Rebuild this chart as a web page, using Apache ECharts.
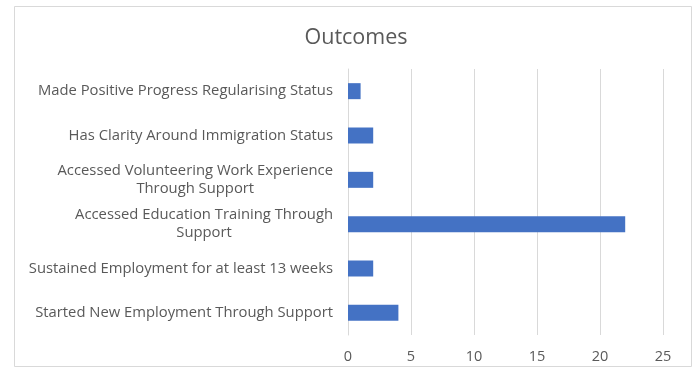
<!DOCTYPE html>
<html>
<head>
<meta charset="utf-8">
<style>
  html, body { margin: 0; padding: 0; background: #ffffff; }
  #chart { width: 697px; height: 371px; }
</style>
<script src="https://cdn.jsdelivr.net/npm/echarts@6/dist/echarts.min.js"></script>
</head>
<body>
<div id="chart"></div>
<script>
// Outcome categories, listed bottom to top as the category axis draws them
const categories = [
  'Started New Employment Through Support',
  'Sustained Employment for at least 13 weeks',
  'Accessed Education Training Through\nSupport',
  'Accessed Volunteering Work Experience\nThrough Support',
  'Has Clarity Around Immigration Status',
  'Made Positive Progress Regularising Status'
];
const counts = [4, 2, 22, 2, 2, 1];
const xTicks = [0, 5, 10, 15, 20, 25];

const FONT = '"Open Sans"';
const chart = echarts.init(document.getElementById('chart'));

chart.setOption({
  animation: false,
  backgroundColor: '#ffffff',
  title: {
    text: 'Outcomes',
    left: 351,
    top: 22,
    textAlign: 'center',
    textStyle: { fontFamily: FONT, fontSize: 21.5, fontWeight: 'normal', color: '#595959' }
  },
  graphic: [{
    type: 'rect',
    shape: { x: 14.5, y: 6.5, width: 677, height: 360 },
    style: { fill: 'none', stroke: '#d9d9d9', lineWidth: 1 },
    silent: true
  }],
  grid: { left: 348, right: 34, top: 69, bottom: 36 },
  xAxis: {
    type: 'value',
    min: xTicks[0],
    max: xTicks[xTicks.length - 1],
    interval: xTicks[1] - xTicks[0],
    axisLine: { show: false },
    axisTick: { show: false },
    splitLine: { show: true, lineStyle: { color: '#d9d9d9', width: 1 } },
    axisLabel: { margin: 14, color: '#595959', fontFamily: FONT, fontSize: 14.5 }
  },
  yAxis: {
    type: 'category',
    data: categories,
    axisLine: { show: true, lineStyle: { color: '#d9d9d9' } },
    axisTick: { show: false },
    axisLabel: {
      margin: 15,
      color: '#595959',
      fontFamily: FONT,
      fontSize: 14.8,
      lineHeight: 18,
      formatter: v => v.split('\n').map(s => '{c|' + s + '}').join('\n'),
      rich: { c: { align: 'center', color: '#595959', fontFamily: FONT, fontSize: 14.8, lineHeight: 18 } }
    }
  },
  series: [{
    type: 'bar',
    data: counts,
    barWidth: 16,
    itemStyle: { color: '#4472c4' }
  }]
});
</script>
</body>
</html>
